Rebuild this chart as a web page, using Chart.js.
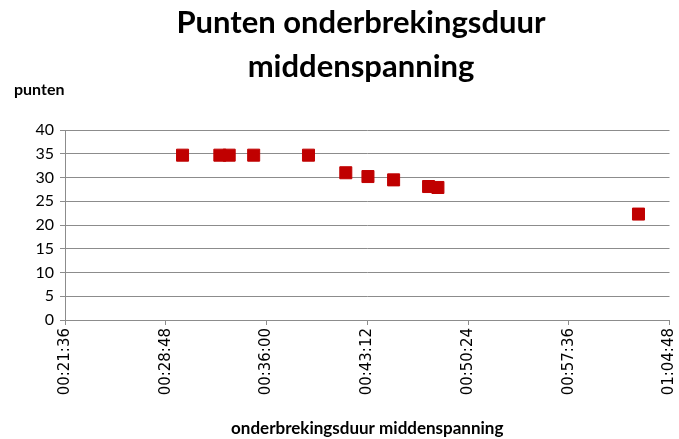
<!DOCTYPE html>
<html>
<head>
<meta charset="utf-8">
<script src="https://cdn.jsdelivr.net/npm/chart.js@4/dist/chart.umd.min.js"></script>
<style>
  html, body { margin: 0; padding: 0; background: #fff; }
  #wrap { width: 679px; height: 439px; position: relative; }
</style>
</head>
<body>
<div id="wrap"><canvas id="chart"></canvas></div>
<script>
// onderbrekingsduur (hh:mm:ss) and punten
const durations = ['00:30:00', '00:32:40', '00:33:20', '00:35:05', '00:39:00', '00:41:40',
                   '00:43:15', '00:45:05', '00:47:35', '00:48:15', '01:02:35'];
const points = [34.7, 34.7, 34.7, 34.7, 34.7, 31.0, 30.2, 29.5, 28.1, 27.9, 22.3];
const yTicks = [0, 5, 10, 15, 20, 25, 30, 35, 40];
const xTickLabels = ['00:21:36', '00:28:48', '00:36:00', '00:43:12', '00:50:24', '00:57:36', '01:04:48'];

const toSec = s => s.split(':').reduce((a, v) => a * 60 + Number(v), 0);
const fmt = sec => {
    const h = Math.floor(sec / 3600), m = Math.floor(sec % 3600 / 60), s = Math.round(sec % 60);
    return [h, m, s].map(v => String(v).padStart(2, '0')).join(':');
};

const xMin = toSec(xTickLabels[0]);
const xMax = toSec(xTickLabels[xTickLabels.length - 1]);

const red = '#C00000';
const grid = '#8c8c8c';

// extra text: title and the y-axis label "punten"
const textPlugin = {
    id: 'texts',
    afterDraw(chart) {
        const ctx = chart.ctx;
        ctx.save();
        ctx.fillStyle = '#000';
        ctx.textAlign = 'center';
        ctx.textBaseline = 'middle';
        ctx.font = 'bold 31px Lato';
        ctx.fillText('Punten onderbrekingsduur', 361, 23);
        ctx.fillText('middenspanning', 361, 67);
        ctx.textAlign = 'left';
        ctx.font = 'bold 16px Lato';
        ctx.fillText('punten', 14, 90);
        ctx.restore();
    }
};

new Chart(document.getElementById('chart'), {
    type: 'scatter',
    data: {
        datasets: [{
            data: durations.map((d, i) => ({ x: toSec(d), y: points[i] })),
            pointStyle: 'rect',
            pointRadius: 8.5,
            pointHoverRadius: 8.5,
            backgroundColor: red,
            borderColor: red,
            borderWidth: 1
        }]
    },
    options: {
        responsive: true,
        maintainAspectRatio: false,
        animation: false,
        layout: { padding: { top: 130, right: 8, left: 0, bottom: 0 } },
        plugins: {
            legend: { display: false },
            tooltip: { enabled: false }
        },
        scales: {
            x: {
                type: 'linear',
                min: xMin,
                max: xMax,
                afterBuildTicks: axis => { axis.ticks = xTickLabels.map(t => ({ value: toSec(t) })); },
                afterFit: axis => {
                    axis.height = 119;
                    axis.paddingLeft = 0;
                    axis.paddingRight = 0;
                },
                ticks: {
                    callback: v => fmt(v),
                    minRotation: 90,
                    maxRotation: 90,
                    color: '#000',
                    padding: 3,
                    font: { family: 'DejaVu Sans', size: 15 }
                },
                grid: { drawOnChartArea: false, tickLength: 5, color: grid },
                border: { color: grid },
                title: {
                    display: true,
                    text: 'onderbrekingsduur middenspanning',
                    color: '#000',
                    padding: { top: 0, bottom: 0 },
                    font: { family: 'Lato', size: 17, weight: 'bold' }
                }
            },
            y: {
                min: 0,
                max: 40,
                afterBuildTicks: axis => { axis.ticks = yTicks.map(v => ({ value: v })); },
                afterFit: axis => { axis.width = 65; },
                ticks: {
                    color: '#000',
                    padding: 6,
                    font: { family: 'Lato', size: 16 }
                },
                grid: { color: grid, tickLength: 5 },
                border: { color: grid }
            }
        }
    },
    plugins: [textPlugin]
});
</script>
</body>
</html>
